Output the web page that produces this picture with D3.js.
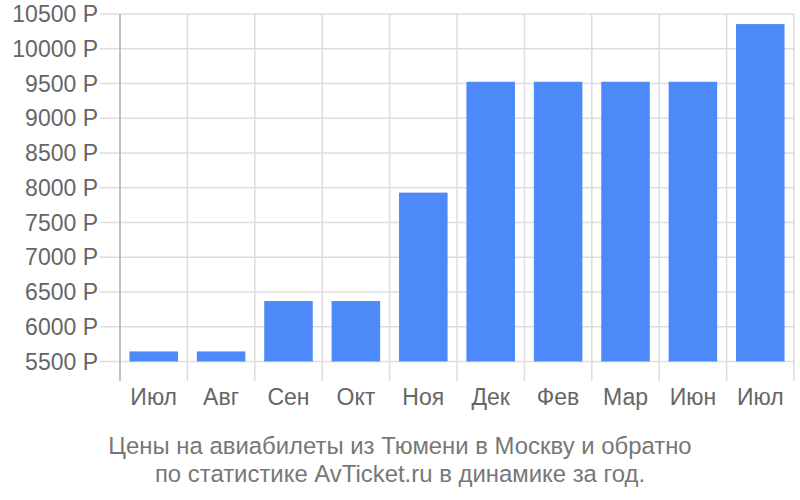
<!DOCTYPE html>
<meta charset="utf-8">
<style>
body { margin: 0; background: #fff; }
text { font-family: "Liberation Sans", Arial, sans-serif; }
</style>
<body>
<script src="https://d3js.org/d3.v7.min.js"></script>
<script>
// months and prices (rub)
var months = ["Июл", "Авг", "Сен", "Окт", "Ноя", "Дек", "Фев", "Мар", "Июн", "Июл"];
var prices = [5645, 5645, 6370, 6370, 7930, 9525, 9525, 9525, 9525, 10355];
var yTicks = [5500, 6000, 6500, 7000, 7500, 8000, 8500, 9000, 9500, 10000, 10500];
var titleLines = ["Цены на авиабилеты из Тюмени в Москву и обратно",
                  "по статистике AvTicket.ru в динамике за год."];

var width = 800, height = 500;
var plotLeft = 120, plotRight = 794, plotTop = 14, base = 361.5, plotBottom = 381;

var svg = d3.select("body").append("svg")
    .attr("width", width)
    .attr("height", height);

var idx = months.map(function(d, i) { return i; });

var x = d3.scaleBand().domain(idx).range([plotLeft, plotRight]).paddingInner(0.28).paddingOuter(0.14);
var xb = d3.scaleLinear().domain([0, months.length]).range([plotLeft, plotRight]);
var y = d3.scaleLinear().domain([5500, 10500]).range([base, plotTop]);

// horizontal grid + ticks
svg.append("g").selectAll("line")
    .data(yTicks)
  .enter().append("line")
    .attr("x1", 100).attr("x2", plotRight)
    .attr("y1", function(d) { return y(d); })
    .attr("y2", function(d) { return y(d); })
    .attr("stroke", "#dddddd")
    .attr("stroke-width", 1.5);

// vertical grid at band edges
svg.append("g").selectAll("line")
    .data(d3.range(1, months.length + 1))
  .enter().append("line")
    .attr("x1", function(d) { return xb(d); })
    .attr("x2", function(d) { return xb(d); })
    .attr("y1", plotTop).attr("y2", plotBottom)
    .attr("stroke", "#dddddd")
    .attr("stroke-width", 1.5);

// left axis line
svg.append("line")
    .attr("x1", plotLeft).attr("x2", plotLeft)
    .attr("y1", plotTop).attr("y2", plotBottom)
    .attr("stroke", "#aaaaaa")
    .attr("stroke-width", 1.5);

// bars
svg.append("g").selectAll("rect")
    .data(prices)
  .enter().append("rect")
    .attr("x", function(d, i) { return x(i); })
    .attr("width", x.bandwidth())
    .attr("y", function(d) { return y(d); })
    .attr("height", function(d) { return base - y(d); })
    .attr("fill", "#4d89f9");

// y labels
svg.append("g").selectAll("text")
    .data(yTicks)
  .enter().append("text")
    .attr("x", 98)
    .attr("y", function(d) { return y(d); })
    .attr("dy", "0.35em")
    .attr("text-anchor", "end")
    .attr("fill", "#666")
    .style("font-size", "23px")
    .text(function(d) { return d + " Р"; });

// x labels
svg.append("g").selectAll("text")
    .data(months)
  .enter().append("text")
    .attr("x", function(d, i) { return x(i) + x.bandwidth() / 2; })
    .attr("y", 397)
    .attr("dy", "0.35em")
    .attr("text-anchor", "middle")
    .attr("fill", "#666")
    .style("font-size", "23px")
    .text(function(d) { return d; });

// title
svg.append("g").selectAll("text")
    .data(titleLines)
  .enter().append("text")
    .attr("x", 400)
    .attr("y", function(d, i) { return 446 + i * 28; })
    .attr("dy", "0.35em")
    .attr("text-anchor", "middle")
    .attr("fill", "#777")
    .style("font-size", "23.9px")
    .text(function(d) { return d; });
</script>
</body>
